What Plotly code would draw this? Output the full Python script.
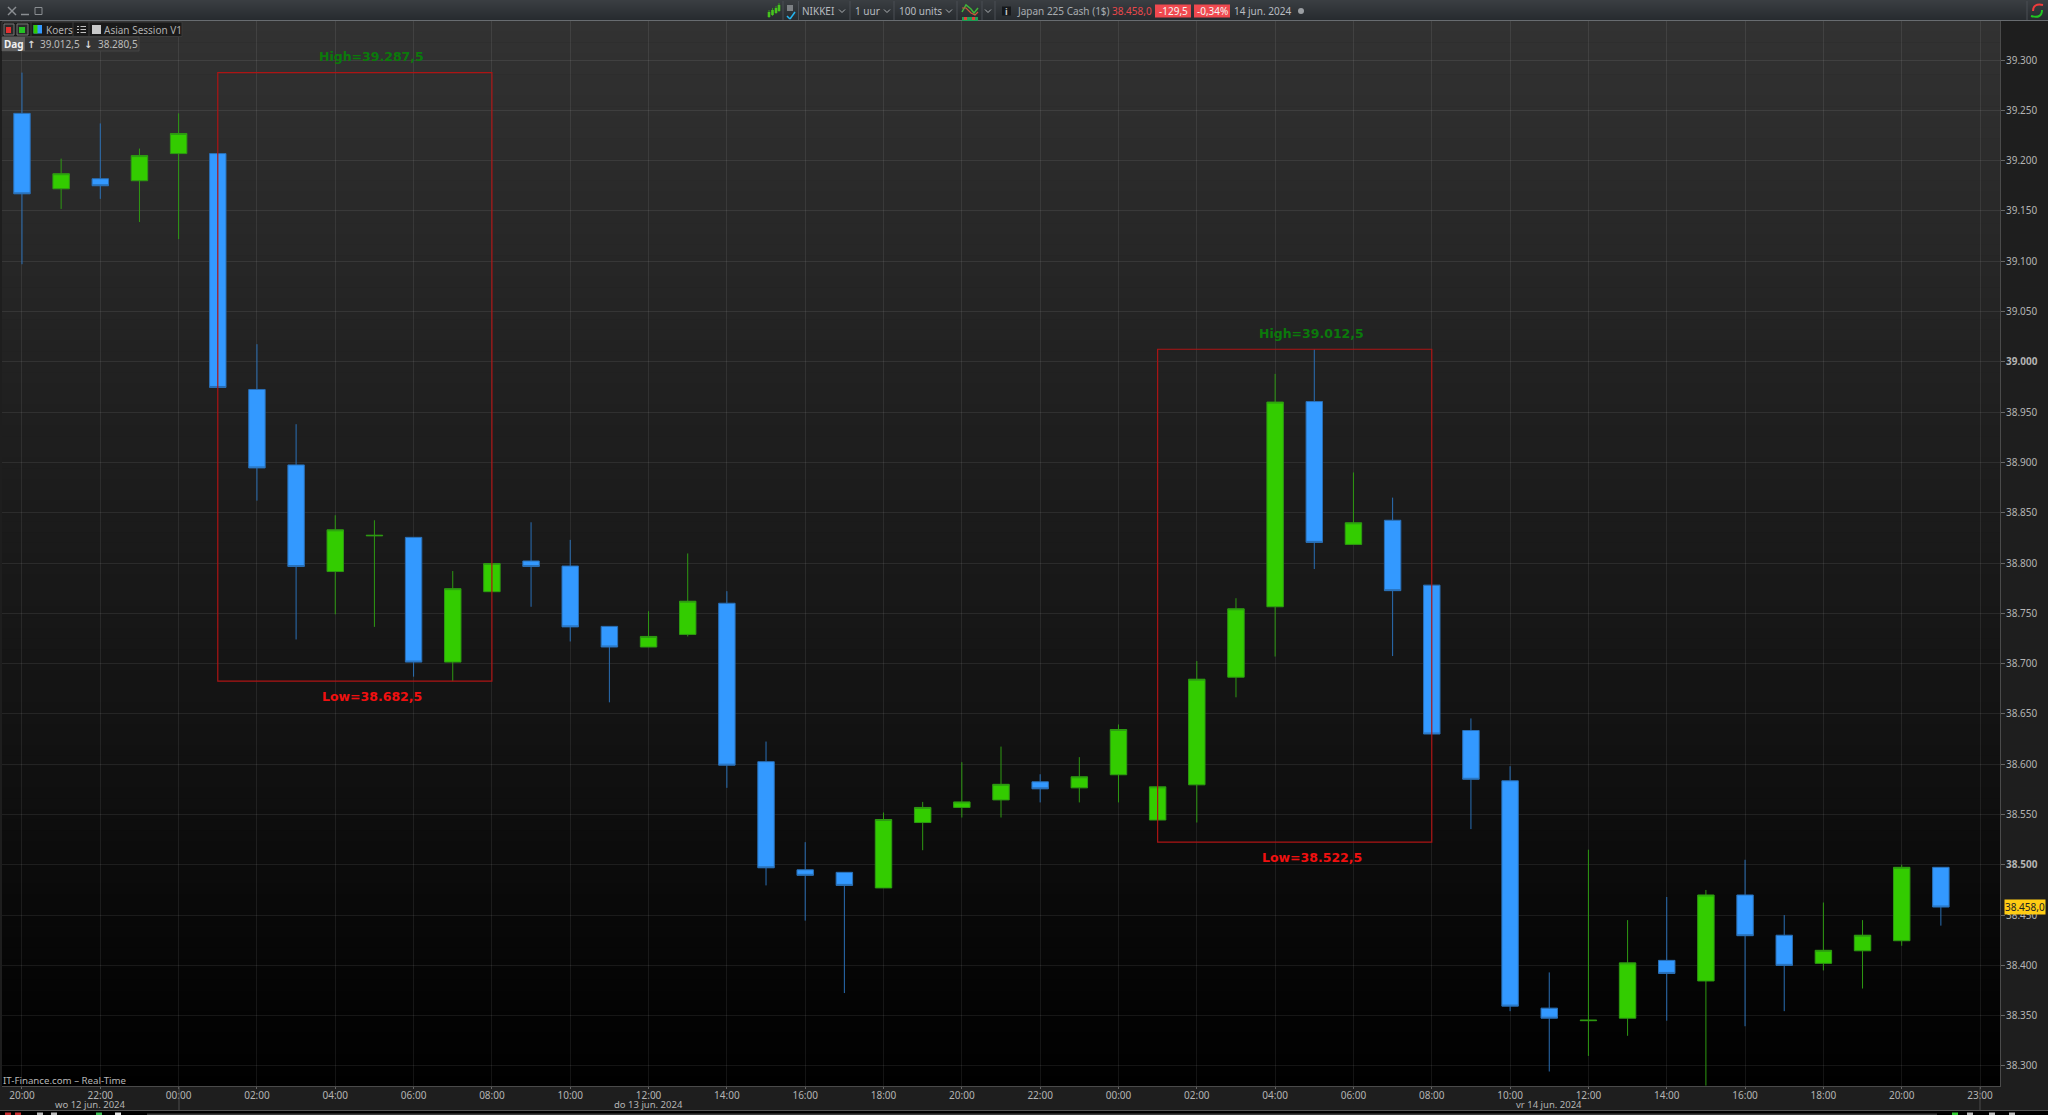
import plotly.graph_objects as go

# ---------- data ----------
opens  = [39247, 39172, 39182, 39180, 39207, 39207, 38972.5, 38897.5, 38791.5, 38827,
          38825.5, 38701.5, 38771.5, 38802, 38797, 38737, 38716.5, 38729, 38760, 38602.5,
          38495, 38492.5, 38477, 38542, 38557, 38564.5, 38582.5, 38576.5, 38589.5, 38544.5,
          38579.5, 38686.5, 38756.5, 38960.5, 38818.5, 38842.5, 38778, 38633.5, 38583.5, 38357.5,
          38345, 38347.5, 38405, 38384.5, 38470, 38430, 38402, 38414.5, 38424.5, 38497.5]
highs  = [39287.5, 39202, 39237, 39212, 39247, 39207, 39017.5, 38938, 38847.5, 38842.5,
          38825.5, 38792, 38799.5, 38840.5, 38823, 38737, 38752, 38809.5, 38772, 38622.5,
          38522.5, 38492.5, 38552, 38562.5, 38602, 38617.5, 38590, 38607, 38639.5, 38577.5,
          38702.5, 38765, 38988, 39012.5, 38890, 38865, 38778, 38645.5, 38598, 38393,
          38515, 38445, 38468, 38475, 38505, 38450, 38462.5, 38445, 38500, 38497.5]
lows   = [39097, 39152, 39162, 39139, 39122, 38974.5, 38862, 38724, 38749, 38736.5,
          38687, 38682.5, 38771.5, 38756.5, 38722, 38661.5, 38716.5, 38727, 38576.5, 38479.5,
          38444.5, 38372.5, 38477, 38514.5, 38547, 38547, 38562, 38562, 38562, 38544.5,
          38542, 38666.5, 38707, 38794, 38818.5, 38707.5, 38630, 38535.5, 38354.5, 38294.5,
          38310, 38330, 38345, 38280.5, 38339.5, 38354.5, 38395, 38377, 38419.5, 38439.5]
closes = [39167, 39187, 39175, 39205, 39227, 38974.5, 38894.5, 38796.5, 38833, 38827.5,
          38701.5, 38774.5, 38799.5, 38796.5, 38736.5, 38716.5, 38727, 38762, 38599, 38497,
          38489.5, 38479.5, 38545, 38557, 38562.5, 38580, 38575.5, 38587.5, 38634.5, 38577.5,
          38684.5, 38754.5, 38960, 38820.5, 38840, 38772.5, 38630, 38585, 38359.5, 38347.5,
          38345.5, 38402.5, 38392, 38470, 38429.5, 38400, 38415, 38430, 38497.5, 38458]
candle_pos = list(range(len(opens)))

x_tick_pos = list(range(0, 52, 2))
x_tick_labels = ["20:00", "22:00", "00:00", "02:00", "04:00", "06:00", "08:00", "10:00", "12:00",
                 "14:00", "16:00", "18:00", "20:00", "22:00", "00:00", "02:00", "04:00", "06:00",
                 "08:00", "10:00", "12:00", "14:00", "16:00", "18:00", "20:00", "23:00"]
y_tick_vals = [38300, 38350, 38400, 38450, 38500, 38550, 38600, 38650, 38700, 38750, 38800,
               38850, 38900, 38950, 39000, 39050, 39100, 39150, 39200, 39250, 39300]
y_tick_labels = ["38.300", "38.350", "38.400", "38.450", "<b>38.500</b>", "38.550", "38.600",
                 "38.650", "38.700", "38.750", "38.800", "38.850", "38.900", "38.950",
                 "<b>39.000</b>", "39.050", "39.100", "39.150", "39.200", "39.250", "39.300"]

session_x0 = [5, 29]
session_x1 = [12, 36]
session_high = [39287.5, 39012.5]
session_low = [38682.5, 38522.5]
session_high_text = ["High=39.287,5", "High=39.012,5"]
session_low_text = ["Low=38.682,5", "Low=38.522,5"]
last_price = 38458

# ---------- layout helpers (pixels of the 2048x1115 page) ----------
W, H = 2048, 1115
L, R, T, B = 2, 2000, 21, 1086
FONT = "Noto Sans"

def px(x):
    return (x - L) / (R - L)

def py(y):
    return 1 - (y - T) / (B - T)

shapes = []
annos = []

def rect(x0, y0, x1, y1, fill, line=None, layer="above"):
    shapes.append(dict(type="rect", xref="paper", yref="paper", x0=px(x0), x1=px(x1), y0=py(y0), y1=py(y1),
                       fillcolor=fill, line=dict(color=line or fill, width=1 if line else 0), layer=layer))

def seg(x0, y0, x1, y1, color, width=1, layer="above"):
    shapes.append(dict(type="line", xref="paper", yref="paper", x0=px(x0), x1=px(x1), y0=py(y0), y1=py(y1),
                       line=dict(color=color, width=width), layer=layer))

def text(x, y, s, color="#b4b4b4", size=10, anchor="left", bold=False, font=FONT):
    if anchor == "left":
        x -= 1.5
    annos.append(dict(xref="paper", yref="paper", x=px(x), y=py(y), text=f"<b>{s}</b>" if bold else s,
                      showarrow=False, xanchor=anchor, yanchor="middle", borderpad=0,
                      font=dict(family=font, size=size, color=color)))

# plot background gradient, one strip per grey step
stops = [(21, 50), (370, 33), (760, 17), (1000, 4), (1086, 0)]
steps = 100
for i in range(steps):
    y0 = T + (B - T) * i / steps
    y1 = T + (B - T) * (i + 1) / steps
    mid = (y0 + y1) / 2
    for (a, ca), (b, cb) in zip(stops, stops[1:]):
        if a <= mid <= b:
            g = round(ca + (cb - ca) * (mid - a) / (b - a))
            break
    rect(L, y0, R, y1 + 0.5, f"rgb({g},{g},{g})", layer="below")

# title bar
for i in range(20):
    g = 64 - i
    rect(0, i, W, i + 1.2, f"rgb({g-6},{g-2},{g+2})")
seg(0, 20.5, W, 20.5, "#686c70", 1)
for xs in [783, 798.5, 850, 894, 957, 982, 995, 2027]:
    seg(xs, 1, xs, 20, "#4a4f55", 1)
# window buttons
seg(8, 7, 16, 15, "#8a8e92", 1.5)
seg(16, 7, 8, 15, "#8a8e92", 1.5)
seg(21, 14.5, 29, 14.5, "#8a8e92", 1.5)
rect(35, 7.5, 42, 14.5, "rgba(0,0,0,0)", "#8a8e92")
# toolbar candles icon
for xc, y0, y1 in [(769, 12, 17), (772.5, 10, 15), (776, 8, 13), (779, 5, 11)]:
    seg(xc, y0 - 2, xc, y1 + 1, "#2f9a18", 1)
    rect(xc - 1.3, y0, xc + 1.3, y1, "#47c41e")
rect(787, 5, 793, 11, "#7c8084")
seg(787, 16, 790, 19, "#25b5f0", 1.5)
seg(790, 19, 795, 12, "#25b5f0", 1.5)
# dropdown chevrons
for xc in [842, 887, 949, 988]:
    seg(xc - 3, 9.5, xc, 12.5, "#aeb2b5", 1)
    seg(xc, 12.5, xc + 3, 9.5, "#aeb2b5", 1)
# indicator icon
rect(962, 17, 978, 21, "#1d9e54")
rect(964, 17, 967, 20, "#d9433a")
rect(972, 17, 975, 20, "#d9433a")
shapes.append(dict(type="path", xref="paper", yref="paper", layer="above", line=dict(color="#3fb63a", width=1.5),
                   path=f"M {px(962)} {py(12)} L {px(966)} {py(5)} L {px(971)} {py(9)} L {px(974)} {py(13)} L {px(978)} {py(8)}"))
shapes.append(dict(type="path", xref="paper", yref="paper", layer="above", line=dict(color="#c85a3a", width=1.2),
                   path=f"M {px(962)} {py(8)} L {px(966)} {py(8)} L {px(971)} {py(13)} L {px(975)} {py(15)} L {px(978)} {py(12)}"))
# info icon
rect(1002, 6.5, 1011, 15.5, "#15181b")
text(1006.5, 11, "i", "#c8c8c8", 9, "center", bold=True)
text(802, 11, "NIKKEI", "#b8bcc0", 10)
text(855.5, 11, "1 uur", "#b8bcc0", 10)
text(899, 11, "100 units", "#b8bcc0", 10)
text(1017, 11, "Japan 225 Cash (1$)", "#a8acb0", 10)
text(1112, 11, "38.458,0", "#e8484c", 10)
rect(1155, 4.5, 1191, 17.5, "#f0494f")
text(1173, 11, "-129,5", "#f4f4f4", 10, "center")
rect(1194, 4.5, 1230, 17.5, "#f0494f")
text(1212, 11, "-0,34%", "#f4f4f4", 10, "center")
text(1234, 11, "14 jun. 2024", "#b8bcc0", 10)
shapes.append(dict(type="circle", xref="paper", yref="paper", x0=px(1298), x1=px(1304), y0=py(8), y1=py(14),
                   fillcolor="#9a9ea2", line=dict(width=0), layer="above"))
# refresh icon
shapes.append(dict(type="path", xref="paper", yref="paper", layer="above", line=dict(color="#ef3b3b", width=2),
                   path=f"M {px(2043)} {py(5)} Q {px(2033)} {py(3)} {px(2033)} {py(11)}"))
shapes.append(dict(type="path", xref="paper", yref="paper", layer="above", line=dict(color="#21c521", width=2),
                   path=f"M {px(2031)} {py(16)} Q {px(2042)} {py(19)} {px(2042)} {py(10)}"))

# legend rows
rect(2, 22, 182, 36.5, "#1a1a1a", "#3a3a3a")
rect(4, 24, 14, 35, "#2a2a2a", "#777")
rect(6, 27, 11, 33, "#e23030")
rect(17, 24, 28, 35, "#2a2a2a", "#777")
rect(19, 27, 25, 33, "#25c225")
for xs in [31, 73, 89]:
    seg(xs, 22, xs, 36, "#3a3a3a", 1)
rect(33.5, 25, 42, 33.5, "#3399ff")
rect(33.5, 25, 37.5, 33.5, "#33cc00")
text(46, 29.5, "Koers", "#b0b0b0", 10)
for yy in [26.5, 29.5, 32.5]:
    seg(77, yy, 79, yy, "#c0c0c0", 1)
    seg(80.5, yy, 86, yy, "#c0c0c0", 1)
rect(92, 25, 101, 34, "#c8c8c8")
text(104, 29.5, "Asian Session V1", "#b0b0b0", 10)
rect(2, 37, 139, 51, "#343434", "#454545")
rect(2, 37, 25, 51, "#5c5c5c")
text(13.5, 44, "Dag", "#f0f0f0", 10, "center", bold=True)
text(31, 44, "↑", "#d8d8d8", 10, "center", bold=True, font="DejaVu Sans")
text(40, 44, "39.012,5", "#bcbcbc", 10)
text(88, 44, "↓", "#d8d8d8", 10, "center", bold=True, font="DejaVu Sans")
text(98, 44, "38.280,5", "#bcbcbc", 10)
text(3, 1080, "IT-Finance.com – Real-Time", "#b8b8b8", 9.7)

# axis decorations
seg(179, 1086, 179, 1110, "#4a4a4a", 1)
seg(1980, 1086, 1980, 1110, "#4a4a4a", 1)
text(90, 1104.5, "wo 12 jun. 2024", "#b4b4b4", 9.5, "center")
text(648, 1104.5, "do 13 jun. 2024", "#b4b4b4", 9.5, "center")
text(1549, 1104.5, "vr 14 jun. 2024", "#b4b4b4", 9.5, "center")
seg(0, 1110.5, W, 1110.5, "#555", 1)
rect(0, 1111, W, 1115, "#000000")
rect(147, 1113.5, 1937, 1115, "#3c3c3c")
for xc, col in [(8, "#c93030"), (18, "#c93030"), (40, "#bbbbbb"), (54, "#bbbbbb"), (99, "#3fbf55"), (118, "#e6e6e6"),
                (1955, "#33cc33"), (1970, "#bbbbbb"), (1992, "#bbbbbb"), (2012, "#bbbbbb")]:
    rect(xc - 3, 1112.5, xc + 3, 1115, col)

# session boxes and labels, positioned from the session values
for x0, x1, hi, lo, ht, lt in zip(session_x0, session_x1, session_high, session_low, session_high_text, session_low_text):
    shapes.append(dict(type="rect", xref="x", yref="y", x0=x0, x1=x1, y0=lo, y1=hi,
                       line=dict(color="#ad1414", width=1.2), fillcolor="rgba(0,0,0,0)", layer="above"))
    mid = (x0 + x1) / 2 + 0.43
    annos.append(dict(xref="x", yref="y", x=mid, y=hi, yshift=16, text=f"<b>{ht}</b>", showarrow=False,
                      xanchor="center", yanchor="middle", font=dict(family="DejaVu Sans", size=12.5, color="#0b7a0b")))
    annos.append(dict(xref="x", yref="y", x=mid, y=lo, yshift=-15, text=f"<b>{lt}</b>", showarrow=False,
                      xanchor="center", yanchor="middle", font=dict(family="DejaVu Sans", size=12.5, color="#f01010")))

# last price tag
annos.append(dict(xref="paper", yref="y", x=px(2025.5), y=last_price, text="38.458,0", showarrow=False,
                  xanchor="center", yanchor="middle", bgcolor="#ffcc14", borderpad=0,
                  font=dict(family=FONT, size=10, color="#222222")))

fig = go.Figure(go.Candlestick(
    x=candle_pos, open=opens, high=highs, low=lows, close=closes,
    increasing=dict(fillcolor="#33cc00", line=dict(color="#2e9a12", width=1)),
    decreasing=dict(fillcolor="#3399ff", line=dict(color="#2a6fb5", width=1)),
    whiskerwidth=0, showlegend=False, hoverinfo="skip"))

fig.update_layout(
    width=W, height=H, margin=dict(l=L, r=W - R, t=T, b=H - B, autoexpand=False),
    paper_bgcolor="#1e1e1e", plot_bgcolor="rgba(0,0,0,0)", boxgap=0.4, showlegend=False,
    shapes=shapes, annotations=annos,
    font=dict(family=FONT, size=10, color="#b4b4b4"),
    xaxis=dict(range=[-0.51, 50.51], tickmode="array", tickvals=x_tick_pos, ticktext=x_tick_labels,
               showgrid=True, gridcolor="rgba(255,255,255,0.08)", gridwidth=1, zeroline=False,
               ticks="outside", ticklen=2, tickcolor="#666", showline=True, linecolor="#4a4a4a", linewidth=1,
               ticklabelstandoff=-2,
               tickfont=dict(family=FONT, size=10, color="#b4b4b4"), rangeslider=dict(visible=False),
               fixedrange=True),
    yaxis=dict(range=[38280.1, 39338.8], side="right", tickmode="array", tickvals=y_tick_vals, ticktext=y_tick_labels,
               showgrid=True, gridcolor="rgba(255,255,255,0.08)", gridwidth=1, zeroline=False,
               ticks="outside", ticklen=4, tickcolor="#666", showline=True, linecolor="#4a4a4a", linewidth=1,
               ticklabelstandoff=-1,
               tickfont=dict(family=FONT, size=10, color="#b4b4b4"), fixedrange=True),
)

fig.write_html("out.html", config=dict(displayModeBar=False),
               post_script="document.body.style.margin='0';document.body.style.background='#000';")
